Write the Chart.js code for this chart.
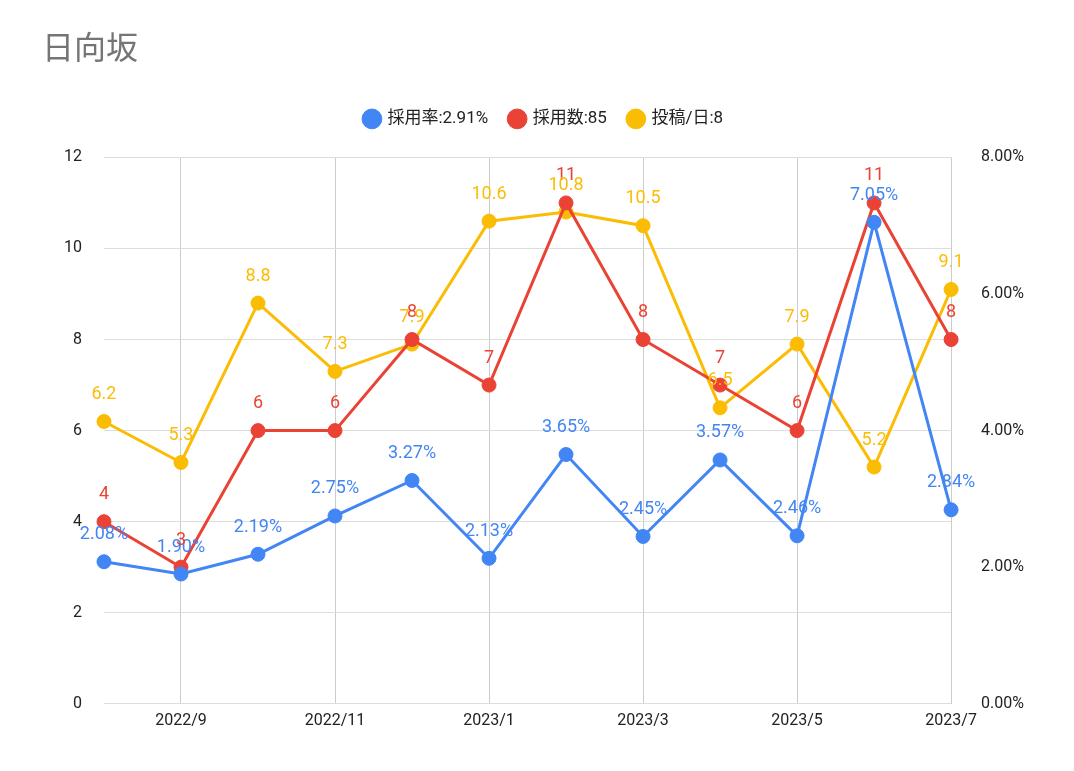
<!DOCTYPE html>
<html><head><meta charset="utf-8">
<script src="https://cdn.jsdelivr.net/npm/chart.js@4"></script>
<style>body{margin:0;background:#fff}#w{width:1074px;height:771px}</style>
</head><body><div id="w"><canvas id="c"></canvas></div>
<script>
const categories=["2022/8","2022/9","2022/10","2022/11","2022/12","2023/1","2023/2","2023/3","2023/4","2023/5","2023/6","2023/7"];
const rate=[2.08,1.90,2.19,2.75,3.27,2.13,3.65,2.45,3.57,2.46,7.05,2.84];
const adopted=[4,3,6,6,8,7,11,8,7,6,11,8];
const perDay=[6.2,5.3,8.8,7.3,7.9,10.6,10.8,10.5,6.5,7.9,5.2,9.1];
const F="Roboto,'Noto Sans CJK JP',sans-serif";
const labelPlugin={id:'lbl',afterDatasetsDraw(ch){const c=ch.ctx;c.save();c.font="18px "+F;c.textAlign='center';c.textBaseline='bottom';
ch.data.datasets.forEach((ds,i)=>{ch.getDatasetMeta(i).data.forEach((p,j)=>{c.fillStyle=ds.borderColor;const v=ds.data[j];c.fillText(i==0?v.toFixed(2)+'%':String(v),p.x,p.y-18);});});c.restore();}};
const legendPad={id:'legPad',beforeInit(ch){const o=ch.legend.fit;ch.legend.fit=function(){o.bind(ch.legend)();this.height+=20;};}};
new Chart(document.getElementById('c'),{type:'line',
data:{labels:categories,datasets:[
{label:'採用率:2.91%',data:rate,yAxisID:'y2',borderColor:'#4285f4',backgroundColor:'#4285f4'},
{label:'採用数:85',data:adopted,yAxisID:'y',borderColor:'#ea4335',backgroundColor:'#ea4335'},
{label:'投稿/日:8',data:perDay,yAxisID:'y',borderColor:'#fbbc04',backgroundColor:'#fbbc04'}]},
options:{responsive:true,maintainAspectRatio:false,animation:false,
layout:{padding:{left:42,right:28,top:0,bottom:32}},
elements:{line:{borderWidth:3,tension:0},point:{radius:7,hoverRadius:7}},
plugins:{title:{display:true,text:'日向坂',align:'start',color:'#757575',font:{family:"'Noto Sans CJK JP',sans-serif",size:32,weight:'normal'},padding:{top:28,bottom:22}},
legend:{labels:{usePointStyle:true,pointStyle:'circle',boxWidth:14,boxHeight:14,color:'#222',font:{family:F,size:17},padding:22}},tooltip:{enabled:false}},
scales:{x:{offset:false,grid:{color:(c)=>c.index%2==1?'#ccc':'rgba(0,0,0,0)',drawTicks:false},border:{display:false},
ticks:{color:'#222',font:{family:F,size:16},padding:8,autoSkip:false,maxRotation:0,callback:function(v,i){return i%2==1?this.getLabelForValue(v):'';}}},
y:{min:0,max:12,ticks:{stepSize:2,color:'#222',font:{family:F,size:16},padding:22},grid:{color:'#ddd',drawTicks:false},border:{display:false}},
y2:{position:'right',min:0,max:8,ticks:{stepSize:2,color:'#222',font:{family:F,size:16},padding:22,callback:v=>v.toFixed(2)+'%'},grid:{display:false},border:{display:false}}}},
plugins:[labelPlugin,legendPad]});
</script></body></html>
